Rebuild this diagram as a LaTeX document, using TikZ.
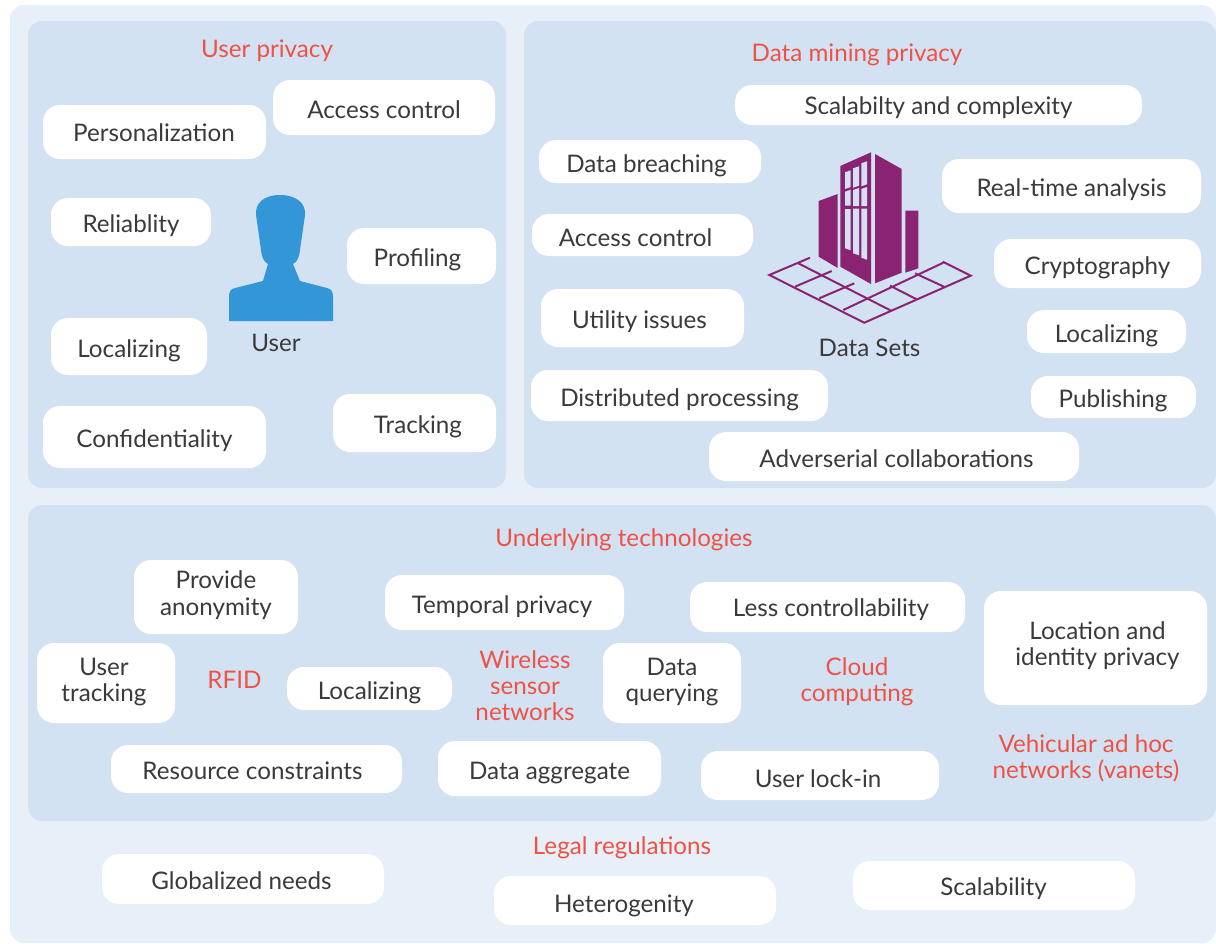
\documentclass[tikz,border=0pt]{standalone}
\usepackage{fontspec}
\setmainfont{Lato}
\definecolor{outerblue}{HTML}{E7F0F8}
\definecolor{panelblue}{HTML}{D3E2F3}
\definecolor{headred}{HTML}{EF5245}
\definecolor{textgrey}{HTML}{3A3A3C}
\definecolor{userblue}{HTML}{3396D6}
\definecolor{dataplum}{HTML}{8A2472}
\tikzset{
    panel/.style={fill=panelblue,rounded corners=14pt},
    tag/.style={fill=white,rounded corners=17pt},
    word/.style={text=textgrey,align=center,inner sep=0pt,
        font=\fontsize{24.2}{26.5}\selectfont},
    head/.style={text=headred,align=center,inner sep=0pt,
        font=\fontsize{24.2}{25.8}\selectfont},
    grid line/.style={draw=dataplum,line width=2pt}
}
\begin{document}
\begin{tikzpicture}[x=1pt,y=-1pt]
    \useasboundingbox (0,0) rectangle (1216,943);
    \fill[white] (0,0) rectangle (1216,943);
    \fill[outerblue,rounded corners=14pt] (10,5) rectangle (1216,943);
    \fill[panel] (28,21) rectangle (506,488);
    \fill[panel] (524,21) rectangle (1216,488);
    \fill[panel] (28,505) rectangle (1216,821);

    % user privacy
    \node[head] (userhead) at (267,51) {User privacy};
    \fill[tag] (43,105) rectangle (266,159);
    \node[word] (personal) at (154,133) {Personalization};
    \fill[tag] (273,80) rectangle (495,135);
    \node[word] (access1) at (384,109.5) {Access control};
    \fill[tag] (51,198) rectangle (211,246);
    \node[word] (reliab) at (131,226) {Reliablity};
    \fill[tag] (347,228) rectangle (496,284);
    \node[word] (profil) at (417.5,260) {Profiling};
    \fill[tag] (51,318) rectangle (207,375);
    \node[word] (local1) at (129,350.5) {Localizing};
    \fill[tag] (43,406) rectangle (266,468);
    \node[word] (confid) at (154.5,441) {Confidentiality};
    \fill[tag] (333,394) rectangle (496,452);
    \node[word] (track) at (418,427) {Tracking};

    % person
    \fill[userblue] (229,321) -- (229,297) .. controls (229,291) and (231,289) .. (235,288)
        -- (263,281) -- (268,264) .. controls (264,262) and (262,258) .. (261,250)
        -- (256,215) .. controls (255,203) and (264,195) .. (280,195)
        .. controls (296,195) and (306,203) .. (305,215)
        -- (300,250) .. controls (299,258) and (297,262) .. (293,264)
        -- (300,281) -- (327,288) .. controls (331,289) and (333,291) .. (333,297)
        -- (333,321) -- cycle;
    \node[word] (usercap) at (276,343) {User};

    % data mining privacy
    \node[head] (datahead) at (857,55) {Data mining privacy};
    \fill[tag] (735,85) rectangle (1142,125);
    \node[word] (scale1) at (938.5,108) {Scalabilty and complexity};
    \fill[tag] (539,140) rectangle (761,183);
    \node[word] (breach) at (646.5,165.5) {Data breaching};
    \fill[tag] (942,159) rectangle (1201,213);
    \node[word] (realtime) at (1071.5,190) {Real-time analysis};
    \fill[tag] (532,214) rectangle (753,256);
    \node[word] (access2) at (635.5,237.5) {Access control};
    \fill[tag] (994,239) rectangle (1201,288);
    \node[word] (crypto) at (1097.5,267.5) {Cryptography};
    \fill[tag] (541,289) rectangle (744,347);
    \node[word] (utility) at (639.5,322) {Utility issues};
    \fill[tag] (1027,310) rectangle (1186,353);
    \node[word] (local2) at (1106.5,335.5) {Localizing};
    \fill[tag] (531,370) rectangle (828,421);
    \node[word] (distrib) at (679.5,399.5) {Distributed processing};
    \fill[tag] (1031,376) rectangle (1196,418);
    \node[word] (publish) at (1113,401) {Publishing};
    \fill[tag] (709,432) rectangle (1079,481);
    \node[word] (advers) at (896.5,458.5) {Adverserial collaborations};

    % building
    \fill[dataplum] (818.7,201) -- (837.7,194) -- (837.7,268) -- (818.7,256.7) -- cycle;
    \fill[dataplum] (875,154) -- (901.7,169) -- (901.7,272.7) -- (875,283.3) -- cycle;
    \fill[dataplum] (905.3,210.7) -- (918.3,210.7) -- (918.3,268.3) -- (905.3,272.7) -- cycle;
    \fill[dataplum] (840.3,166) -- (871,152.3) -- (871,284) -- (840.3,266.7) -- cycle;
    \foreach \xa/\xb/\ya/\yb/\yc/\yd/\ye/\yf in
        {845/850.7/172.3/189/191.7/205.7/209/248.3,
         853/859/168.3/187.7/190/206/208.7/253.3,
         861.3/867/163.3/186.3/189/206/208.7/257.7} {
        \fill[panelblue] (\xa,\ya) -- (\xb,\ya-2) -- (\xb,\yb-2) -- (\xa,\yb) -- cycle;
        \fill[panelblue] (\xa,\yc) -- (\xb,\yc-2) -- (\xb,\yd) -- (\xa,\yd) -- cycle;
        \fill[panelblue] (\xa,\ye) -- (\xb,\ye) -- (\xb,\yf+2) -- (\xa,\yf) -- cycle;
    }
    \draw[grid line] (810,257.7) -- (769.3,275) -- (864.3,322.7) -- (970.7,275.7) -- (942.7,261.7);
    \draw[grid line] (798.3,263.3) -- (891.7,311);
    \draw[grid line] (795,286.7) -- (831.7,271);
    \draw[grid line] (819.3,298.3) -- (854.3,283.3);
    \draw[grid line] (843.3,310) -- (943.3,262.7);
    \draw[grid line] (890,285.7) -- (916.7,299.3);
    \draw[grid line] (915,273.3) -- (944,286.7);
    \node[word] (datacap) at (869.5,348) {Data Sets};

    % underlying technologies
    \node[head] (techhead) at (624,540) {Underlying technologies};
    \fill[tag] (134,560) rectangle (298,634);
    \node[word] (anon) at (216,595) {Provide\\anonymity};
    \fill[tag] (385,575) rectangle (624,630);
    \node[word] (temporal) at (502,606.5) {Temporal privacy};
    \fill[tag] (690,582) rectangle (965,632);
    \node[word] (lesscon) at (831,610) {Less controllability};
    \fill[tag] (984,591) rectangle (1207,705);
    \node[word] (location) at (1097.5,645.5) {Location and\\identity privacy};
    \fill[tag] (37,643) rectangle (175,723);
    \node[word] (usertrack) at (104,682) {User\\tracking};
    \node[head] (rfid) at (234.5,680) {RFID};
    \fill[tag] (287,667) rectangle (452,710);
    \node[word] (local3) at (369.5,692.5) {Localizing};
    \node[head] (wsn) at (525,685.5) {Wireless\\sensor\\networks};
    \fill[tag] (603,643) rectangle (741,723);
    \node[word] (query) at (672,682) {Data\\querying};
    \node[head] (cloud) at (857,682) {Cloud\\computing};
    \node[head] (vanet) at (1086,758.5) {Vehicular ad hoc\\networks (vanets)};
    \fill[tag] (111,745) rectangle (402,793);
    \node[word] (resource) at (252.5,771) {Resource constraints};
    \fill[tag] (438,741) rectangle (661,796);
    \node[word] (aggreg) at (549.5,773.5) {Data aggregate};
    \fill[tag] (701,751) rectangle (939,800);
    \node[word] (lockin) at (818,778.5) {User lock-in};

    % legal regulations
    \node[head] (legalhead) at (622,848) {Legal regulations};
    \fill[tag] (102,854) rectangle (384,904);
    \node[word] (global) at (241.5,881) {Globalized needs};
    \fill[tag] (494,876) rectangle (776,925);
    \node[word] (hetero) at (624,905.5) {Heterogenity};
    \fill[tag] (853,861) rectangle (1135,910);
    \node[word] (scale2) at (993.5,888.5) {Scalability};
\end{tikzpicture}
\end{document}
